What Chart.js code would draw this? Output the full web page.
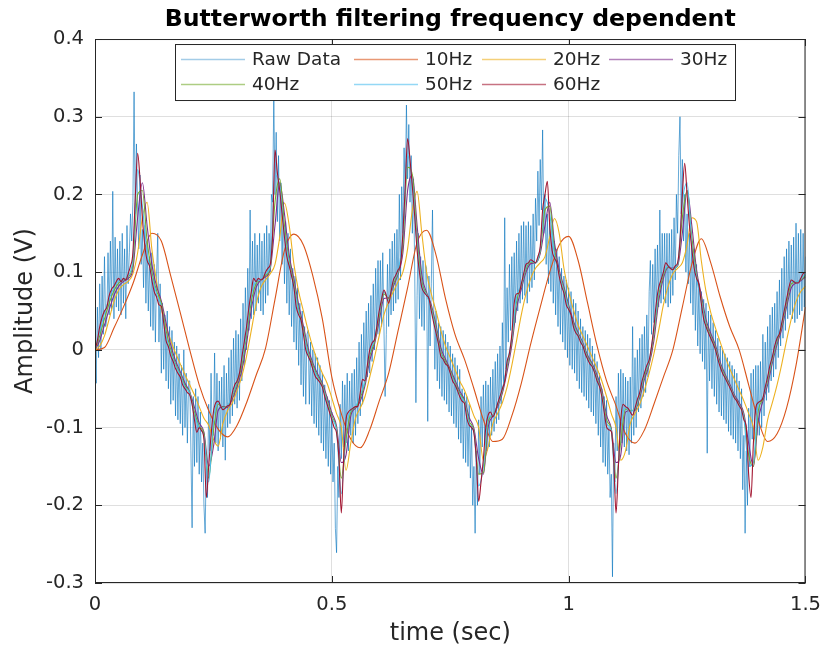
<!DOCTYPE html>
<html>
<head>
<meta charset="utf-8">
<title>Butterworth filtering frequency dependent</title>
<script src="https://cdn.jsdelivr.net/npm/chart.js@4.4.1/dist/chart.umd.min.js"></script>
<style>
  html, body { margin: 0; padding: 0; background: #fff; }
  canvas { display: block; }
</style>
</head>
<body>
<canvas id="filterChart" width="831" height="650"></canvas>
<script>
// sample spacing (sec) of each stored series
const rawStep = 0.0025;
const hz60Step = 0.005;
const midStep = 0.01;   // 20, 30, 40, 50 Hz outputs
const hz10Step = 0.02;

const seriesLabels = ['Raw Data', '10Hz', '20Hz', '30Hz', '40Hz', '50Hz', '60Hz'];
const seriesColors = ['rgba(0,114,189,0.6)', '#D95319', '#EDB120', '#7E2F8E', '#77AC30', '#4DBEEE', '#A2142F'];

const xTickLabels = ['0', '0.5', '1', '1.5'];
const yTickLabels = ['-0.3', '-0.2', '-0.1', '0', '0.1', '0.2', '0.3', '0.4'];

// Raw signal, one row = 0.05 s
const rawData = [
  0.000, -0.043, 0.055, -0.010, 0.085, 0.000, 0.095, 0.020, 0.120, 0.030, 0.040, 0.125, 0.045, 0.140, 0.050, 0.204, 0.040, 0.145, 0.055, 0.130,
  0.050, 0.140, 0.045, 0.150, 0.060, 0.130, 0.040, 0.160, 0.085, 0.125, 0.175, 0.140, 0.190, 0.332, 0.175, 0.265, 0.180, 0.130, 0.225, 0.110,
  0.155, 0.080, 0.160, 0.060, 0.140, 0.050, 0.120, 0.030, 0.125, 0.025, 0.110, 0.010, 0.095, 0.150, 0.010, 0.085, -0.030, 0.060, -0.025, 0.045,
  -0.040, 0.050, -0.050, 0.030, -0.070, 0.025, -0.065, 0.010, -0.085, 0.005, -0.090, -0.005, -0.095, -0.020, -0.110, 0.000, -0.100, -0.030, -0.120, -0.040,
  -0.040, -0.130, -0.229, -0.060, -0.150, -0.050, -0.145, -0.060, -0.160, -0.080, -0.170, -0.120, -0.200, -0.236, -0.140, -0.190, -0.070, -0.130, -0.030, -0.110,
  -0.110, -0.004, -0.120, -0.030, -0.130, -0.040, -0.115, -0.035, -0.125, -0.020, -0.142, -0.030, -0.100, -0.010, -0.095, 0.000, -0.085, 0.015, -0.070, 0.025,
  -0.075, 0.020, -0.065, 0.040, -0.040, 0.060, -0.020, 0.080, 0.000, 0.105, 0.025, 0.180, 0.040, 0.140, 0.045, 0.150, 0.050, 0.135, 0.060, 0.150,
  0.050, 0.140, 0.045, 0.150, 0.060, 0.160, 0.070, 0.150, 0.100, 0.200, 0.190, 0.327, 0.200, 0.280, 0.165, 0.250, 0.140, 0.215, 0.110, 0.190,
  0.085, 0.165, 0.060, 0.150, 0.045, 0.130, 0.030, 0.105, 0.010, 0.095, 0.000, 0.080, -0.020, 0.060, -0.045, 0.050, -0.060, 0.030, -0.070, 0.020,
  0.025, -0.070, 0.010, -0.085, 0.000, -0.095, -0.005, -0.100, -0.010, -0.110, -0.020, -0.120, -0.030, -0.130, -0.045, -0.140, -0.060, -0.150, -0.065, -0.160,
  -0.080, -0.170, -0.120, -0.230, -0.261, -0.150, -0.190, -0.070, -0.140, -0.040, -0.125, -0.045, -0.120, -0.030, -0.130, -0.040, -0.110, -0.030, -0.120, -0.025,
  -0.110, -0.010, -0.095, 0.010, -0.085, 0.020, -0.070, 0.035, -0.040, 0.050, -0.035, 0.060, -0.030, 0.070, -0.015, 0.085, 0.000, 0.105, 0.020, 0.115,
  0.020, 0.115, 0.030, 0.125, 0.030, -0.060, 0.020, 0.110, 0.030, 0.130, 0.045, 0.140, 0.050, 0.150, 0.060, 0.155, 0.065, 0.200, 0.090, 0.210,
  0.150, 0.260, 0.200, 0.315, 0.220, 0.290, 0.190, 0.250, 0.150, 0.220, 0.100, -0.068, 0.070, 0.150, 0.040, 0.120, 0.030, 0.115, 0.025, 0.110,
  0.105, -0.092, 0.095, 0.005, 0.085, 0.180, 0.060, -0.025, 0.050, -0.040, 0.035, -0.050, 0.030, -0.060, 0.025, -0.065, 0.020, -0.070, 0.010, -0.080,
  0.005, -0.085, -0.005, -0.095, -0.010, -0.100, -0.020, -0.115, -0.025, -0.120, -0.050, -0.140, -0.055, -0.145, -0.060, -0.150, -0.070, -0.165, -0.100, -0.200,
  -0.150, -0.236, -0.130, -0.200, -0.090, -0.160, -0.060, -0.125, -0.045, -0.120, -0.040, -0.130, -0.045, -0.125, -0.035, -0.110, -0.025, -0.105, -0.015, -0.095,
  -0.005, -0.090, 0.005, -0.070, 0.035, -0.050, 0.170, -0.025, 0.080, 0.010, 0.110, 0.025, 0.120, 0.030, 0.125, 0.035, 0.140, 0.050, 0.150, 0.060,
  0.160, 0.065, 0.165, 0.070, 0.160, 0.060, 0.165, 0.075, 0.160, 0.080, 0.175, 0.090, 0.195, 0.140, 0.230, 0.160, 0.245, 0.180, 0.283, 0.150,
  0.200, 0.110, 0.175, 0.085, 0.165, 0.075, 0.160, 0.060, 0.140, 0.045, 0.130, 0.030, 0.120, 0.020, 0.105, 0.010, 0.095, 0.000, 0.090, -0.010,
  0.080, -0.020, 0.075, -0.025, 0.065, -0.030, 0.060, -0.040, 0.050, -0.050, 0.040, -0.055, 0.030, -0.060, 0.025, -0.065, 0.020, -0.075, 0.015, -0.080,
  0.005, -0.085, -0.005, -0.095, -0.015, -0.110, -0.030, -0.125, -0.050, -0.145, -0.060, -0.150, -0.065, -0.160, -0.100, -0.190, -0.160, -0.292, -0.120, -0.170,
  -0.060, -0.130, -0.030, -0.115, -0.025, -0.120, -0.030, -0.125, -0.035, -0.130, -0.040, -0.135, -0.035, -0.120, 0.030, -0.110, -0.010, -0.100, 0.000, -0.080,
  0.015, -0.075, 0.020, -0.060, 0.030, -0.055, 0.045, -0.035, 0.075, 0.115, 0.020, 0.110, 0.035, 0.130, 0.045, 0.135, 0.055, 0.180, 0.060, 0.150,
  0.065, 0.150, 0.060, 0.150, 0.055, 0.150, 0.060, 0.155, 0.070, 0.170, 0.090, 0.200, 0.150, 0.250, 0.300, 0.175, 0.245, 0.140, 0.200, 0.100,
  0.175, 0.085, 0.150, 0.060, 0.140, 0.045, 0.130, 0.025, 0.110, 0.005, 0.085, -0.005, 0.075, -0.015, 0.065, -0.025, 0.060, -0.133, 0.050, -0.040,
  0.045, -0.050, 0.035, -0.060, 0.025, -0.070, 0.015, -0.080, 0.005, -0.085, 0.000, -0.090, -0.005, -0.095, -0.010, -0.105, -0.015, -0.110, -0.020, -0.115,
  -0.025, -0.120, -0.030, -0.130, -0.040, -0.140, -0.050, -0.180, -0.110, -0.236, -0.130, -0.200, -0.075, -0.150, -0.030, -0.115, -0.025, -0.115, -0.020, -0.110,
  -0.020, -0.110, -0.015, -0.100, 0.020, -0.085, 0.010, -0.065, 0.030, -0.055, 0.045, -0.040, 0.055, -0.035, 0.060, -0.025, 0.075, -0.010, 0.090, 0.005,
  0.105, 0.015, 0.120, 0.025, 0.130, 0.040, 0.140, 0.045, 0.135, 0.040, 0.145, 0.035, 0.163, 0.040, 0.150, 0.045, 0.155, 0.050, 0.150, 0.055,
  0.120
];

// 10 Hz low-pass, one row = 0.2 s
const hz10 = [
  0.000, 0.003, 0.028, 0.055, 0.085, 0.122, 0.150, 0.140, 0.095, 0.048,
  0.000, -0.045, -0.078, -0.102, -0.112, -0.097, -0.068, -0.033, 0.002, 0.065,
  0.128, 0.149, 0.135, 0.095, 0.040, -0.035, -0.082, -0.115, -0.126, -0.103,
  -0.066, -0.030, 0.025, 0.080, 0.138, 0.154, 0.122, 0.066, 0.020, -0.012,
  -0.050, -0.090, -0.118, -0.115, -0.085, -0.043, 0.008, 0.055, 0.100, 0.135,
  0.146, 0.115, 0.060, 0.005, -0.040, -0.072, -0.108, -0.120, -0.103, -0.070,
  -0.035, 0.000, 0.055, 0.110, 0.143, 0.112, 0.068, 0.030, 0.000, -0.045,
  -0.090, -0.118, -0.108, -0.075, -0.020, 0.055
];

// 20 Hz low-pass, one row = 0.1 s
const hz20 = [
  0.000, 0.005, 0.018, 0.040, 0.062, 0.077, 0.084, 0.088, 0.098, 0.125,
  0.170, 0.190, 0.130, 0.088, 0.052, 0.030, 0.012, -0.004, -0.018, -0.032,
  -0.045, -0.058, -0.073, -0.088, -0.097, -0.115, -0.124, -0.095, -0.078, -0.068,
  -0.052, -0.034, -0.008, 0.025, 0.058, 0.080, 0.090, 0.098, 0.110, 0.145,
  0.189, 0.160, 0.110, 0.075, 0.050, 0.025, 0.003, -0.015, -0.030, -0.043,
  -0.062, -0.082, -0.100, -0.155, -0.120, -0.088, -0.075, -0.060, -0.035, -0.010,
  0.018, 0.045, 0.062, 0.075, 0.088, 0.100, 0.130, 0.180, 0.204, 0.150,
  0.100, 0.072, 0.050, 0.025, 0.005, -0.010, -0.025, -0.040, -0.052, -0.068,
  -0.085, -0.100, -0.142, -0.125, -0.095, -0.082, -0.068, -0.048, -0.020, 0.012,
  0.045, 0.072, 0.092, 0.105, 0.112, 0.120, 0.145, 0.169, 0.150, 0.105,
  0.075, 0.052, 0.032, 0.018, 0.004, -0.010, -0.024, -0.040, -0.060, -0.082,
  -0.100, -0.142, -0.130, -0.095, -0.082, -0.070, -0.052, -0.030, -0.005, 0.025,
  0.058, 0.082, 0.098, 0.105, 0.112, 0.135, 0.170, 0.165, 0.115, 0.075,
  0.048, 0.028, 0.010, -0.008, -0.024, -0.038, -0.052, -0.066, -0.082, -0.100,
  -0.142, -0.125, -0.090, -0.068, -0.045, -0.018, 0.012, 0.040, 0.062, 0.075,
  0.082
];

// 30 Hz low-pass, one row = 0.1 s
const hz30 = [
  0.000, 0.012, 0.032, 0.052, 0.070, 0.082, 0.088, 0.092, 0.104, 0.170,
  0.215, 0.160, 0.110, 0.082, 0.063, 0.035, 0.006, -0.014, -0.028, -0.043,
  -0.054, -0.074, -0.094, -0.106, -0.150, -0.125, -0.078, -0.073, -0.074, -0.063,
  -0.047, -0.026, 0.008, 0.052, 0.080, 0.090, 0.094, 0.104, 0.160, 0.215,
  0.175, 0.122, 0.091, 0.058, 0.031, 0.002, -0.017, -0.031, -0.043, -0.061,
  -0.081, -0.098, -0.145, -0.135, -0.085, -0.075, -0.066, -0.046, -0.014, 0.007,
  0.037, 0.066, 0.067, 0.082, 0.098, 0.125, 0.205, 0.225, 0.160, 0.096,
  0.074, 0.058, 0.032, 0.003, -0.012, -0.025, -0.039, -0.053, -0.064, -0.087,
  -0.101, -0.140, -0.160, -0.100, -0.085, -0.073, -0.056, -0.028, 0.006, 0.053,
  0.078, 0.100, 0.111, 0.112, 0.124, 0.160, 0.190, 0.138, 0.103, 0.081,
  0.058, 0.037, 0.022, 0.009, -0.007, -0.018, -0.033, -0.051, -0.084, -0.101,
  -0.145, -0.135, -0.080, -0.078, -0.078, -0.061, -0.038, -0.019, 0.012, 0.062,
  0.092, 0.106, 0.105, 0.108, 0.150, 0.205, 0.160, 0.103, 0.071, 0.039,
  0.021, 0.006, -0.016, -0.031, -0.044, -0.058, -0.068, -0.082, -0.120, -0.150,
  -0.092, -0.066, -0.045, -0.017, 0.007, 0.027, 0.055, 0.080, 0.086, 0.089,
  0.094
];

// 40 Hz low-pass, one row = 0.1 s
const hz40 = [
  0.000, 0.018, 0.040, 0.060, 0.076, 0.086, 0.090, 0.094, 0.110, 0.200,
  0.205, 0.140, 0.100, 0.076, 0.060, 0.025, 0.000, -0.018, -0.031, -0.046,
  -0.055, -0.080, -0.098, -0.108, -0.165, -0.105, -0.070, -0.074, -0.073, -0.060,
  -0.043, -0.020, 0.018, 0.062, 0.085, 0.090, 0.096, 0.106, 0.190, 0.220,
  0.160, 0.115, 0.086, 0.052, 0.026, -0.003, -0.020, -0.034, -0.045, -0.065,
  -0.085, -0.102, -0.165, -0.115, -0.080, -0.074, -0.062, -0.042, -0.008, 0.010,
  0.043, 0.072, 0.066, 0.085, 0.100, 0.135, 0.235, 0.225, 0.145, 0.088,
  0.072, 0.055, 0.028, -0.002, -0.015, -0.027, -0.042, -0.056, -0.066, -0.092,
  -0.104, -0.160, -0.158, -0.092, -0.084, -0.071, -0.053, -0.022, 0.012, 0.062,
  0.082, 0.104, 0.113, 0.112, 0.127, 0.180, 0.185, 0.128, 0.099, 0.078,
  0.055, 0.034, 0.020, 0.007, -0.009, -0.020, -0.036, -0.055, -0.090, -0.103,
  -0.165, -0.118, -0.076, -0.078, -0.077, -0.058, -0.034, -0.016, 0.020, 0.070,
  0.096, 0.107, 0.104, 0.109, 0.170, 0.205, 0.145, 0.097, 0.066, 0.034,
  0.018, 0.003, -0.019, -0.033, -0.046, -0.060, -0.070, -0.085, -0.135, -0.150,
  -0.080, -0.063, -0.040, -0.013, 0.011, 0.031, 0.060, 0.085, 0.087, 0.090,
  0.096
];

// 50 Hz low-pass, one row = 0.1 s
const hz50 = [
  0.000, 0.024, 0.047, 0.066, 0.080, 0.089, 0.090, 0.095, 0.118, 0.232,
  0.185, 0.125, 0.095, 0.072, 0.056, 0.018, -0.004, -0.020, -0.033, -0.048,
  -0.056, -0.085, -0.100, -0.112, -0.170, -0.090, -0.068, -0.075, -0.072, -0.058,
  -0.040, -0.015, 0.025, 0.070, 0.088, 0.090, 0.098, 0.108, 0.225, 0.210,
  0.150, 0.110, 0.082, 0.048, 0.022, -0.006, -0.023, -0.036, -0.047, -0.068,
  -0.088, -0.105, -0.185, -0.100, -0.078, -0.073, -0.058, -0.040, -0.003, 0.013,
  0.048, 0.075, 0.064, 0.088, 0.102, 0.145, 0.250, 0.215, 0.135, 0.083,
  0.071, 0.052, 0.024, -0.005, -0.017, -0.029, -0.044, -0.058, -0.068, -0.095,
  -0.106, -0.175, -0.150, -0.088, -0.084, -0.070, -0.051, -0.018, 0.016, 0.068,
  0.084, 0.107, 0.114, 0.112, 0.130, 0.195, 0.175, 0.122, 0.097, 0.075,
  0.053, 0.032, 0.019, 0.006, -0.011, -0.021, -0.038, -0.058, -0.095, -0.104,
  -0.185, -0.100, -0.074, -0.079, -0.076, -0.056, -0.031, -0.014, 0.026, 0.076,
  0.099, 0.108, 0.104, 0.110, 0.190, 0.215, 0.135, 0.093, 0.062, 0.031,
  0.016, 0.001, -0.021, -0.035, -0.047, -0.061, -0.071, -0.088, -0.150, -0.145,
  -0.070, -0.062, -0.036, -0.010, 0.014, 0.034, 0.064, 0.088, 0.087, 0.091,
  0.098
];

// 60 Hz low-pass, one row = 0.05 s
const hz60 = [
  0.000, 0.012, 0.030, 0.042, 0.050, 0.055, 0.070, 0.078, 0.082, 0.088,
  0.092, 0.088, 0.092, 0.090, 0.098, 0.108, 0.125, 0.195, 0.253, 0.220,
  0.170, 0.135, 0.115, 0.108, 0.090, 0.075, 0.068, 0.058, 0.056, 0.035,
  0.012, 0.004, -0.008, -0.015, -0.024, -0.030, -0.035, -0.045, -0.050, -0.055,
  -0.058, -0.070, -0.090, -0.106, -0.100, -0.104, -0.115, -0.190, -0.150, -0.110,
  -0.080, -0.068, -0.066, -0.072, -0.077, -0.075, -0.072, -0.070, -0.055, -0.045,
  -0.040, -0.030, -0.010, 0.010, 0.030, 0.055, 0.075, 0.092, 0.088, 0.092,
  0.090, 0.092, 0.100, 0.105, 0.110, 0.150, 0.257, 0.228, 0.205, 0.175,
  0.145, 0.120, 0.108, 0.095, 0.080, 0.055, 0.045, 0.038, 0.020, 0.000,
  -0.008, -0.015, -0.025, -0.034, -0.038, -0.042, -0.048, -0.060, -0.070, -0.080,
  -0.090, -0.100, -0.107, -0.140, -0.210, -0.140, -0.090, -0.080, -0.077, -0.075,
  -0.073, -0.073, -0.055, -0.038, -0.040, -0.020, 0.000, 0.009, 0.013, 0.030,
  0.050, 0.065, 0.077, 0.070, 0.060, 0.075, 0.090, 0.096, 0.103, 0.110,
  0.150, 0.210, 0.272, 0.245, 0.210, 0.172, 0.128, 0.100, 0.080, 0.074,
  0.070, 0.066, 0.050, 0.035, 0.022, 0.008, -0.008, -0.012, -0.018, -0.021,
  -0.030, -0.040, -0.045, -0.052, -0.060, -0.066, -0.069, -0.088, -0.097, -0.100,
  -0.107, -0.140, -0.195, -0.170, -0.140, -0.100, -0.084, -0.080, -0.086, -0.080,
  -0.069, -0.060, -0.050, -0.040, -0.015, -0.004, 0.020, 0.060, 0.072, 0.073,
  0.085, 0.098, 0.110, 0.112, 0.116, 0.114, 0.112, 0.120, 0.133, 0.180,
  0.200, 0.217, 0.160, 0.128, 0.118, 0.112, 0.095, 0.082, 0.073, 0.058,
  0.052, 0.045, 0.030, 0.022, 0.018, 0.010, 0.005, -0.005, -0.012, -0.018,
  -0.022, -0.030, -0.040, -0.047, -0.060, -0.080, -0.099, -0.103, -0.105, -0.140,
  -0.210, -0.150, -0.090, -0.070, -0.073, -0.075, -0.080, -0.084, -0.075, -0.064,
  -0.055, -0.040, -0.030, -0.020, -0.013, 0.005, 0.030, 0.060, 0.080, 0.090,
  0.100, 0.112, 0.108, 0.105, 0.103, 0.108, 0.112, 0.140, 0.200, 0.240,
  0.200, 0.160, 0.130, 0.105, 0.092, 0.084, 0.060, 0.040, 0.030, 0.022,
  0.015, 0.008, 0.000, -0.012, -0.022, -0.030, -0.036, -0.042, -0.048, -0.055,
  -0.062, -0.066, -0.072, -0.077, -0.090, -0.100, -0.160, -0.190, -0.120, -0.075,
  -0.068, -0.066, -0.062, -0.048, -0.035, -0.020, -0.009, 0.005, 0.015, 0.021,
  0.035, 0.050, 0.065, 0.080, 0.090, 0.088, 0.086, 0.086, 0.092, 0.098,
  0.100
];

const seriesValues = [rawData, hz10, hz20, hz30, hz40, hz50, hz60];
const seriesSteps = [rawStep, hz10Step, midStep, midStep, midStep, midStep, hz60Step];

function toPoints(values, step) {
  return values.map((v, i) => ({ x: i * step, y: v }));
}

const datasets = seriesLabels.map((label, k) => ({
  label: label,
  data: toPoints(seriesValues[k], seriesSteps[k]),
  borderColor: seriesColors[k],
  borderWidth: k === 0 ? 1 : 1.1,
  pointRadius: 0,
  fill: false,
  tension: 0,
  cubicInterpolationMode: k === 0 ? 'default' : 'monotone',
  order: seriesLabels.length - 1 - k   // 60Hz on top, raw at the bottom
}));

const fontFamily = '"DejaVu Sans", "Liberation Sans", sans-serif';
const axisColor = '#262626';

function fmtTick(v) {
  return Number(v.toFixed(1)).toString();
}

// MATLAB style box with inward tick marks
const boxPlugin = {
  id: 'boxPlugin',
  afterDatasetsDraw(chart) {
    const { ctx, chartArea: a, scales } = chart;
    ctx.save();
    ctx.strokeStyle = axisColor;
    ctx.lineWidth = 1;
    ctx.strokeRect(a.left + 0.5, a.top + 0.5, a.right - a.left - 1, a.bottom - a.top - 1);
    const tl = 7;
    ctx.beginPath();
    scales.y.ticks.forEach(t => {
      const py = Math.round(scales.y.getPixelForValue(t.value)) + 0.5;
      ctx.moveTo(a.left, py); ctx.lineTo(a.left + tl, py);
      ctx.moveTo(a.right, py); ctx.lineTo(a.right - tl, py);
    });
    scales.x.ticks.forEach(t => {
      const px = Math.round(scales.x.getPixelForValue(t.value)) + 0.5;
      ctx.moveTo(px, a.bottom); ctx.lineTo(px, a.bottom - tl);
      ctx.moveTo(px, a.top); ctx.lineTo(px, a.top + tl);
    });
    ctx.stroke();
    ctx.restore();
  }
};

// legend box in the upper part of the axes, 4 columns
const legendPlugin = {
  id: 'boxLegend',
  afterDraw(chart) {
    const { ctx, chartArea: a } = chart;
    const left = a.left + 80, top = a.top + 5, w = 560, h = 56;
    const colX = [6, 179, 307, 434];
    const rowY = [16, 41];
    ctx.save();
    ctx.fillStyle = '#fff';
    ctx.fillRect(left, top, w, h);
    ctx.strokeStyle = axisColor;
    ctx.lineWidth = 1;
    ctx.strokeRect(left + 0.5, top + 0.5, w, h);
    ctx.font = '18.5px ' + fontFamily;
    ctx.textBaseline = 'middle';
    ctx.textAlign = 'left';
    chart.data.datasets.forEach((ds, i) => {
      const col = i % 4, row = Math.floor(i / 4);
      const x0 = left + colX[col];
      const y0 = top + rowY[row];
      ctx.strokeStyle = ds.borderColor;
      ctx.globalAlpha = 0.6;
      ctx.lineWidth = 1.5;
      ctx.beginPath();
      ctx.moveTo(x0, y0 - 0.5);
      ctx.lineTo(x0 + 64, y0 - 0.5);
      ctx.stroke();
      ctx.globalAlpha = 1;
      ctx.fillStyle = axisColor;
      ctx.fillText(ds.label, x0 + 71, y0 + 0.5);
    });
    ctx.restore();
  }
};

new Chart(document.getElementById('filterChart'), {
  type: 'line',
  data: { datasets: datasets },
  options: {
    responsive: false,
    animation: false,
    devicePixelRatio: 1,
    layout: { padding: { top: 0, right: 21, left: 0, bottom: 0 } },
    plugins: {
      legend: { display: false },
      tooltip: { enabled: false },
      title: {
        display: true,
        fullSize: false,
        text: 'Butterworth filtering frequency dependent',
        color: '#000',
        font: { family: fontFamily, size: 23.6, weight: 'bold' },
        padding: { top: 6, bottom: 4.7 }
      }
    },
    scales: {
      x: {
        type: 'linear',
        min: 0,
        max: 1.5,
        afterFit: s => { s.height = 67; },
        ticks: {
          stepSize: 0.5,
          padding: 10,
          color: axisColor,
          font: { family: fontFamily, size: 19.5 },
          callback: v => fmtTick(v)
        },
        grid: { color: 'rgba(38,38,38,0.15)', drawTicks: false },
        border: { display: false },
        title: {
          display: true,
          text: 'time (sec)',
          color: axisColor,
          font: { family: fontFamily, size: 24 },
          padding: { top: 2, bottom: 2 }
        }
      },
      y: {
        type: 'linear',
        min: -0.3,
        max: 0.4,
        afterFit: s => { s.width = 95; },
        ticks: {
          stepSize: 0.1,
          padding: 11,
          color: axisColor,
          font: { family: fontFamily, size: 19.5 },
          callback: v => fmtTick(v)
        },
        grid: { color: 'rgba(38,38,38,0.15)', drawTicks: false },
        border: { display: false },
        title: {
          display: true,
          text: 'Amplitude (V)',
          color: axisColor,
          font: { family: fontFamily, size: 24 },
          padding: { top: 11, bottom: 11 }
        }
      }
    }
  },
  plugins: [boxPlugin, legendPlugin]
});
</script>
</body>
</html>
